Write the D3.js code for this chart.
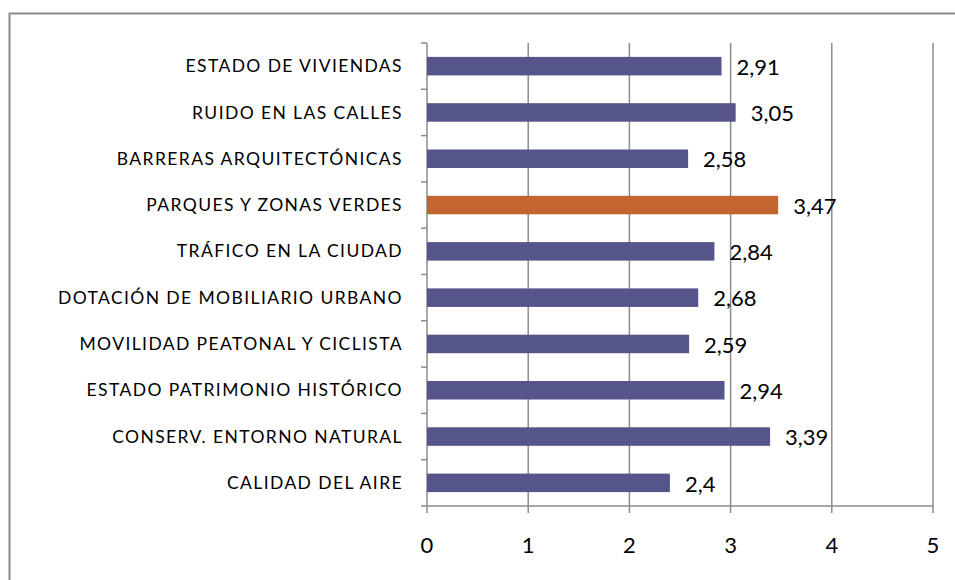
<!DOCTYPE html>
<meta charset="utf-8">
<style>
body { margin: 0; background: #fff; }
text { font-family: Lato, "Open Sans", sans-serif; fill: #000; }
.grid line { stroke: #8c8c8c; stroke-width: 1.5px; }
</style>
<body>
<svg width="955" height="580"></svg>
<script src="https://cdn.jsdelivr.net/npm/d3@7"></script>
<script>
var categories = ["ESTADO DE VIVIENDAS", "RUIDO EN LAS CALLES", "BARRERAS ARQUITECTÓNICAS",
  "PARQUES Y ZONAS VERDES", "TRÁFICO EN LA CIUDAD", "DOTACIÓN DE MOBILIARIO URBANO",
  "MOVILIDAD PEATONAL Y CICLISTA", "ESTADO PATRIMONIO HISTÓRICO", "CONSERV. ENTORNO NATURAL",
  "CALIDAD DEL AIRE"];
var values = [2.91, 3.05, 2.58, 3.47, 2.84, 2.68, 2.59, 2.94, 3.39, 2.4];
var highlight = "PARQUES Y ZONAS VERDES";
var xTicks = [0, 1, 2, 3, 4, 5];

var svg = d3.select("svg");

// chart frame
svg.append("rect")
    .attr("x", 9.5).attr("y", 13.5)
    .attr("width", 970).attr("height", 600)
    .attr("fill", "none").attr("stroke", "#8c8c8c").attr("stroke-width", 2);

var plotLeft = 427, plotRight = 933, plotTop = 43, plotBottom = 506;

var x = d3.scaleLinear().domain([0, 5]).range([plotLeft, plotRight]);
var y = d3.scaleBand().domain(categories).range([plotTop, plotBottom]).paddingInner(0.6).paddingOuter(0.3);
var yb = d3.scaleBand().domain(categories).range([plotTop, plotBottom]);

// vertical gridlines + ticks below axis
var grid = svg.append("g").attr("class", "grid");
grid.selectAll("line.v")
  .data(xTicks)
  .enter().append("line")
    .attr("x1", function(d) { return x(d); })
    .attr("x2", function(d) { return x(d); })
    .attr("y1", plotTop)
    .attr("y2", plotBottom + 7);

// x axis line
grid.append("line")
    .attr("x1", plotLeft).attr("x2", plotRight)
    .attr("y1", plotBottom).attr("y2", plotBottom);

// left axis ticks at category boundaries
var bounds = categories.map(function(c) { return yb(c); }).concat([plotBottom]);
grid.selectAll("line.t")
  .data(bounds)
  .enter().append("line")
    .attr("x1", plotLeft - 6).attr("x2", plotLeft)
    .attr("y1", function(d) { return d; })
    .attr("y2", function(d) { return d; });

// bars
svg.append("g").selectAll("rect")
  .data(values)
  .enter().append("rect")
    .attr("x", x(0))
    .attr("y", function(d, i) { return y(categories[i]); })
    .attr("width", function(d) { return x(d) - x(0); })
    .attr("height", y.bandwidth())
    .attr("fill", function(d, i) { return categories[i] === highlight ? "#c4642e" : "#55558c"; });

// value labels
svg.append("g").selectAll("text")
  .data(values)
  .enter().append("text")
    .attr("x", function(d) { return x(d) + 15; })
    .attr("y", function(d, i) { return yb(categories[i]) + yb.bandwidth() / 2 + 1; })
    .attr("dy", "0.35em")
    .style("font-size", "22px")
    .text(function(d) { return String(d).replace(".", ","); });

// category labels
svg.append("g").selectAll("text")
  .data(categories)
  .enter().append("text")
    .attr("x", 403)
    .attr("y", function(d) { return yb(d) + yb.bandwidth() / 2; })
    .attr("dy", "0.35em")
    .attr("text-anchor", "end")
    .style("font-size", "17.5px")
    .style("letter-spacing", "1.4px")
    .text(function(d) { return d; });

// x tick labels
svg.append("g").selectAll("text")
  .data(xTicks)
  .enter().append("text")
    .attr("x", function(d) { return x(d); })
    .attr("y", 545)
    .attr("dy", "0.35em")
    .attr("text-anchor", "middle")
    .style("font-size", "22px")
    .text(function(d) { return d; });
</script>
</body>
